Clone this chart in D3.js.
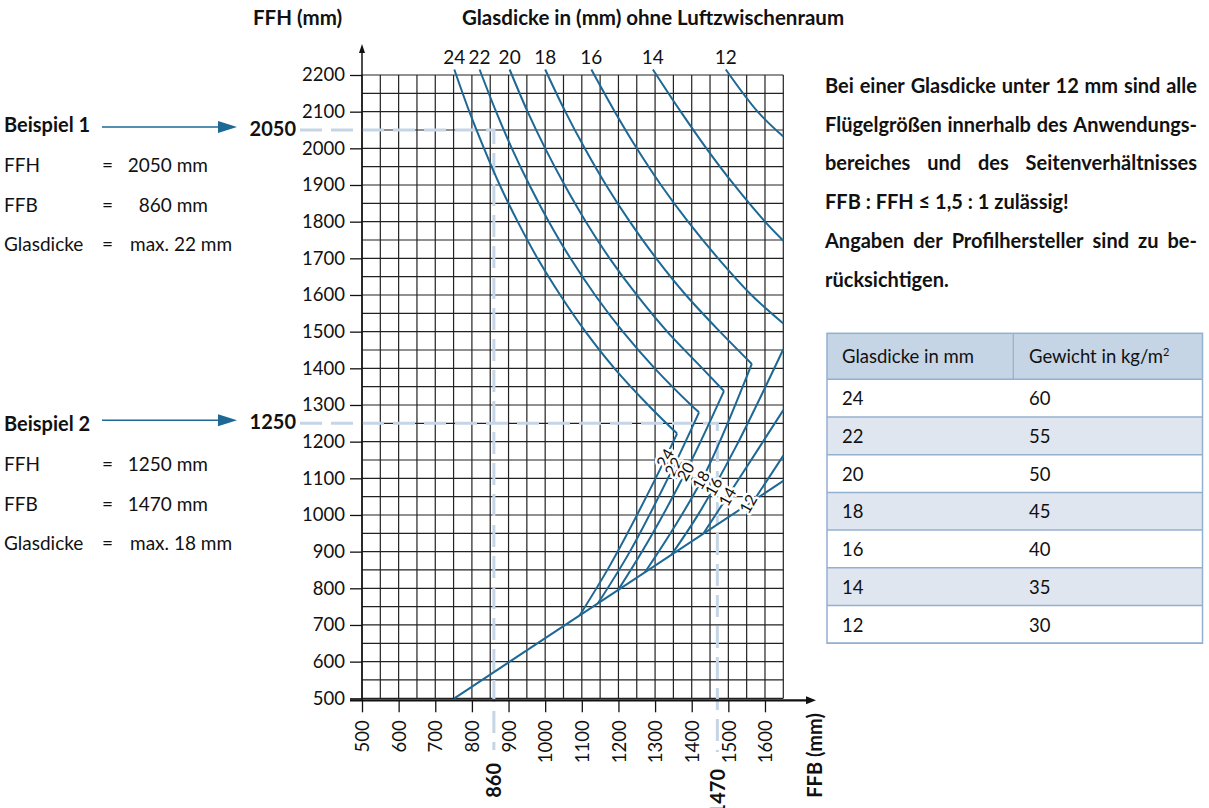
<!DOCTYPE html>
<html><head><meta charset="utf-8">
<script src="https://cdn.jsdelivr.net/npm/d3@7"></script>
<style>
body{margin:0;background:#fff;}
svg text{font-family:Lato,"Open Sans","DejaVu Sans",sans-serif;fill:#111;}
</style></head><body>
<svg id="c" width="1209" height="808"></svg>
<script>
// ---------- data ----------
const xTickValues = [500,600,700,800,900,1000,1100,1200,1300,1400,1500,1600];
const yTickValues = [500,600,700,800,900,1000,1100,1200,1300,1400,1500,1600,1700,1800,1900,2000,2100,2200];
const glassThickness = [24,22,20,18,16,14,12];
const glassWeight = [60,55,50,45,40,35,30];

// upper limit curves [FFB, FFH]
const upper24 = [[752,2215],[793,2100],[833,2000],[876,1900],[925,1800],[979,1700],[1041,1600],[1110,1500],[1189,1400],[1281,1300],[1360,1222]];
const upper22 = [[821,2215],[866,2100],[909,2000],[957,1900],[1010,1800],[1069,1700],[1136,1600],[1212,1500],[1299,1400],[1398,1300],[1420,1280]];
const upper20 = [[903,2215],[952,2100],[1000,2000],[1053,1900],[1111,1800],[1176,1700],[1250,1600],[1333,1500],[1429,1400],[1488,1338]];
const upper18 = [[1000,2215],[1055,2100],[1108,2000],[1166,1900],[1231,1800],[1303,1700],[1384,1600],[1477,1500],[1564,1412]];
const upper16 = [[1126,2215],[1190,2100],[1250,2000],[1316,1900],[1390,1800],[1472,1700],[1563,1600],[1650,1522]];
const upper14 = [[1294,2215],[1370,2100],[1440,2000],[1516,1900],[1600,1800],[1650,1748]];
const upper12 = [[1493,2215],[1580,2100],[1650,2032]];

// lower limit branches [FFB, FFH]
const lower24 = [[1094,726],[1180,868],[1299,1095],[1360,1222]];
const lower22 = [[1144,759],[1230,898],[1340,1110],[1420,1280]];
const lower20 = [[1199,795],[1285,935],[1390,1130],[1488,1338]];
const lower18 = [[1272,843],[1350,963],[1440,1120],[1564,1412]];
const lower16 = [[1345,892],[1420,1005],[1520,1185],[1650,1452]];
const lower14 = [[1431,948],[1530,1100],[1650,1286]];
const lower12 = [[1570,1040],[1650,1162]];
const baseLine = [[752,500],[1650,1093]];

// FFH where the thickness label sits on each lower branch
const lineLabelFFH = [1155,1132,1118,1095,1077,1050,1030];

// examples
const exampleFFH = [2050,1250];
const exampleFFB = [860,1470];
const exampleGlass = [22,18];

const noteLines = [
  "Bei einer Glasdicke unter 12 mm sind alle",
  "Flügelgrößen innerhalb des Anwendungs-",
  "bereiches und des Seitenverhältnisses",
  "FFB : FFH \u2264 1,5 : 1 zulässig!",
  "Angaben der Profilhersteller sind zu be-",
  "rücksichtigen."
];
const noteJustify = [true,true,true,false,true,false];

// ---------- drawing ----------
const svg = d3.select("#c");
const blue = "#1d6894";
const dashCol = "#c6d5e5";
const x = d3.scaleLinear().domain([500,1650]).range([362,783.3]);
const y = d3.scaleLinear().domain([500,2200]).range([698.3,75]);

// grid
const g = svg.append("g");
g.selectAll("line.v").data(d3.range(500,1651,50)).join("line")
  .attr("x1",d=>x(d)).attr("x2",d=>x(d)).attr("y1",y(2200)).attr("y2",y(500))
  .attr("stroke","#222").attr("stroke-width",1.2);
g.selectAll("line.h").data(d3.range(500,2201,50)).join("line")
  .attr("y1",d=>y(d)).attr("y2",d=>y(d)).attr("x1",x(500)).attr("x2",x(1650))
  .attr("stroke","#222").attr("stroke-width",1.2);

// dashed example lines
const dash = svg.append("g").attr("stroke",dashCol).attr("stroke-width",3).attr("stroke-dasharray","22,9").attr("fill","none");
const exBottom = [750,752];
exampleFFH.forEach((h,i)=>{
  dash.append("path").attr("d",`M300,${y(h)} H${x(exampleFFB[i])} V${exBottom[i]}`);
});

// axes
const yAxis = d3.axisLeft(y).tickValues(yTickValues).tickSize(12).tickPadding(5).tickFormat(d3.format("d"));
const ya = svg.append("g").attr("transform",`translate(${x(500)},0)`).call(yAxis);
ya.select(".domain").remove();
ya.selectAll(".tick line").attr("stroke","#111").attr("stroke-width",1.3);
ya.selectAll(".tick text").attr("font-size",18.5).attr("font-family","Lato").attr("fill","#111");

const xAxis = d3.axisBottom(x).tickValues(xTickValues).tickSize(12).tickFormat(d3.format("d"));
const xa = svg.append("g").attr("transform",`translate(0,${y(500)+2})`).call(xAxis);
xa.select(".domain").remove();
xa.selectAll(".tick line").attr("stroke","#111").attr("stroke-width",1.3);
xa.selectAll(".tick text").attr("font-size",18.5).attr("font-family","Lato").attr("fill","#111")
  .attr("transform","rotate(-90)").attr("text-anchor","end").attr("x",-20).attr("y",0).attr("dy","0.36em");

// axis lines with arrows
svg.append("line").attr("x1",x(500)).attr("x2",x(500)).attr("y1",y(500)+2).attr("y2",50).attr("stroke","#111").attr("stroke-width",1.5);
svg.append("path").attr("d",`M${x(500)-3},53 L${x(500)},44 L${x(500)+3},53 Z`).attr("fill","#111");
svg.append("line").attr("x1",350).attr("x2",808).attr("y1",y(500)+2).attr("y2",y(500)+2).attr("stroke","#111").attr("stroke-width",2.2);
svg.append("path").attr("d",`M806,${y(500)-2} L816,${y(500)+2} L806,${y(500)+6} Z`).attr("fill","#111");

// curves
const line = d3.line().x(d=>x(d[0])).y(d=>y(d[1])).curve(d3.curveCatmullRom.alpha(0.5));
const uppers = [upper24,upper22,upper20,upper18,upper16,upper14,upper12];
const lowers = [lower24,lower22,lower20,lower18,lower16,lower14,lower12];
const cg = svg.append("g").attr("fill","none").attr("stroke",blue).attr("stroke-width",2).attr("stroke-linejoin","miter");
uppers.forEach(u=>cg.append("path").attr("d",line(u)));
lowers.forEach(l=>cg.append("path").attr("d",line(l)));
cg.append("path").attr("d",d3.line().x(d=>x(d[0])).y(d=>y(d[1]))(baseLine));

// thickness labels at top
svg.append("g").selectAll("text").data(glassThickness).join("text")
  .attr("x",(d,i)=>x(uppers[i][0][0])).attr("y",64).attr("text-anchor","middle")
  .attr("font-size",19).text(d=>d);

// thickness labels on lower branches
function xAt(poly, fh){
  for(let k=0;k<poly.length-1;k++){
    const a=poly[k], b=poly[k+1];
    if(fh>=a[1] && fh<=b[1]) return a[0]+(b[0]-a[0])*(fh-a[1])/(b[1]-a[1]);
  }
  return poly[poly.length-1][0];
}
const labelPolys = [lower24,lower22,lower20,lower18,lower16,lower14,baseLine];
svg.append("g").selectAll("text").data(glassThickness).join("text")
  .attr("transform",(d,i)=>`translate(${x(xAt(labelPolys[i],lineLabelFFH[i]))},${y(lineLabelFFH[i])}) rotate(-60)`)
  .attr("text-anchor","middle").attr("dy","0.35em").attr("font-size",16)
  .attr("stroke","#fff").attr("stroke-width",5).attr("paint-order","stroke").attr("stroke-linejoin","round")
  .text(d=>d);

// axis titles
svg.append("text").attr("x",253).attr("y",25).attr("font-weight","bold").attr("font-size",20.5).text("FFH (mm)");
svg.append("text").attr("x",653).attr("y",25).attr("text-anchor","middle").attr("font-weight","bold").attr("font-size",20.5).text("Glasdicke in (mm) ohne Luftzwischenraum");
svg.append("text").attr("transform","translate(815,713) rotate(-90)").attr("text-anchor","end").attr("dy","0.36em")
  .attr("font-weight","bold").attr("font-size",20).text("FFB (mm)");

// example values on axes
svg.append("text").attr("transform",`translate(${x(exampleFFB[0])},763) rotate(-90)`).attr("text-anchor","end").attr("dy","0.36em")
  .attr("font-weight","bold").attr("font-size",20).text(exampleFFB[0]);
svg.append("text").attr("transform",`translate(${x(exampleFFB[1])},769) rotate(-90)`).attr("text-anchor","end").attr("dy","0.36em")
  .attr("font-weight","bold").attr("font-size",20).text(exampleFFB[1]);

// left example blocks
const exTop = [132,431];
exampleFFH.forEach((h,i)=>{
  const b = svg.append("g");
  const t0 = exTop[i];
  b.append("text").attr("x",4).attr("y",t0).attr("font-weight","bold").attr("font-size",20).text("Beispiel "+(i+1));
  const ay = y(h)-3;
  b.append("line").attr("x1",102).attr("x2",222).attr("y1",ay).attr("y2",ay).attr("stroke",blue).attr("stroke-width",1.5);
  b.append("path").attr("d",`M218,${ay-6} L237,${ay} L218,${ay+6} Z`).attr("fill",blue);
  b.append("text").attr("x",296).attr("y",y(h)+6).attr("text-anchor","end").attr("font-weight","bold").attr("font-size",20).text(h);
  const rows = [["FFH", h+" mm"],["FFB", exampleFFB[i]+" mm"],["Glasdicke","max. "+exampleGlass[i]+" mm"]];
  rows.forEach((r,k)=>{
    const yy = t0 + 40*(k+1) - (k==2?1:0);
    b.append("text").attr("x",4).attr("y",yy).attr("font-size",19).text(r[0]);
    b.append("text").attr("x",102).attr("y",yy).attr("font-size",19).text("=");
    if(k<2) b.append("text").attr("x",208).attr("y",yy).attr("text-anchor","end").attr("font-size",19).text(r[1]);
    else b.append("text").attr("x",130).attr("y",yy).attr("font-size",19).text(r[1]);
  });
});

// note paragraph (justified)
const noteX0 = 825, noteX1 = 1197;
const noteSize = 20;
noteLines.forEach((ln,i)=>{
  const yy = 93 + i*38.7;
  if(!noteJustify[i]){
    svg.append("text").attr("x",noteX0).attr("y",yy).attr("font-weight","bold").attr("font-size",noteSize).text(ln);
    return;
  }
  const words = ln.split(" ");
  const nodes = words.map(w=>svg.append("text").attr("y",yy).attr("font-weight","bold").attr("font-size",noteSize).text(w));
  let widths = nodes.map(n=>n.node().getComputedTextLength());
  let gap = (noteX1-noteX0-d3.sum(widths))/(words.length-1);
  if(gap < 3){ // shrink a touch if too long
    const k = (noteX1-noteX0-3*(words.length-1))/d3.sum(widths);
    nodes.forEach(n=>n.attr("font-size",noteSize*k));
    widths = nodes.map(n=>n.node().getComputedTextLength());
    gap = (noteX1-noteX0-d3.sum(widths))/(words.length-1);
  }
  let cx = noteX0;
  nodes.forEach((n,k)=>{ n.attr("x",cx); cx += widths[k]+gap; });
});

// table
const tx0 = 827, tx1 = 1202.5, tMid = 1013.3, tTop = 333.3, hH = 46, rH = 37.7;
const tg = svg.append("g");
tg.append("rect").attr("x",tx0).attr("y",tTop).attr("width",tx1-tx0).attr("height",hH).attr("fill","#c5d5e6");
glassThickness.forEach((t,i)=>{
  tg.append("rect").attr("x",tx0).attr("y",tTop+hH+i*rH).attr("width",tx1-tx0).attr("height",rH)
    .attr("fill", i%2==1 ? "#dfe6f0" : "#fff");
});
const bcol = "#94b0cf";
for(let i=0;i<=glassThickness.length;i++){
  tg.append("line").attr("x1",tx0).attr("x2",tx1).attr("y1",tTop+hH+i*rH).attr("y2",tTop+hH+i*rH).attr("stroke",bcol).attr("stroke-width",1.5);
}
tg.append("rect").attr("x",tx0).attr("y",tTop).attr("width",tx1-tx0).attr("height",hH+glassThickness.length*rH)
  .attr("fill","none").attr("stroke",bcol).attr("stroke-width",1.5);
tg.append("line").attr("x1",tMid).attr("x2",tMid).attr("y1",tTop).attr("y2",tTop+hH).attr("stroke",bcol).attr("stroke-width",1.2);
tg.append("text").attr("x",842).attr("y",363).attr("font-size",18.5).text("Glasdicke in mm");
const ht = tg.append("text").attr("x",1029).attr("y",363).attr("font-size",18.5).text("Gewicht in kg/m");
ht.append("tspan").attr("font-size",11).attr("dy",-7).text("2");
glassThickness.forEach((t,i)=>{
  const yy = tTop+hH+i*rH+26;
  tg.append("text").attr("x",842).attr("y",yy).attr("font-size",18.5).text(t);
  tg.append("text").attr("x",1029).attr("y",yy).attr("font-size",18.5).text(glassWeight[i]);
});
</script>
</body></html>
